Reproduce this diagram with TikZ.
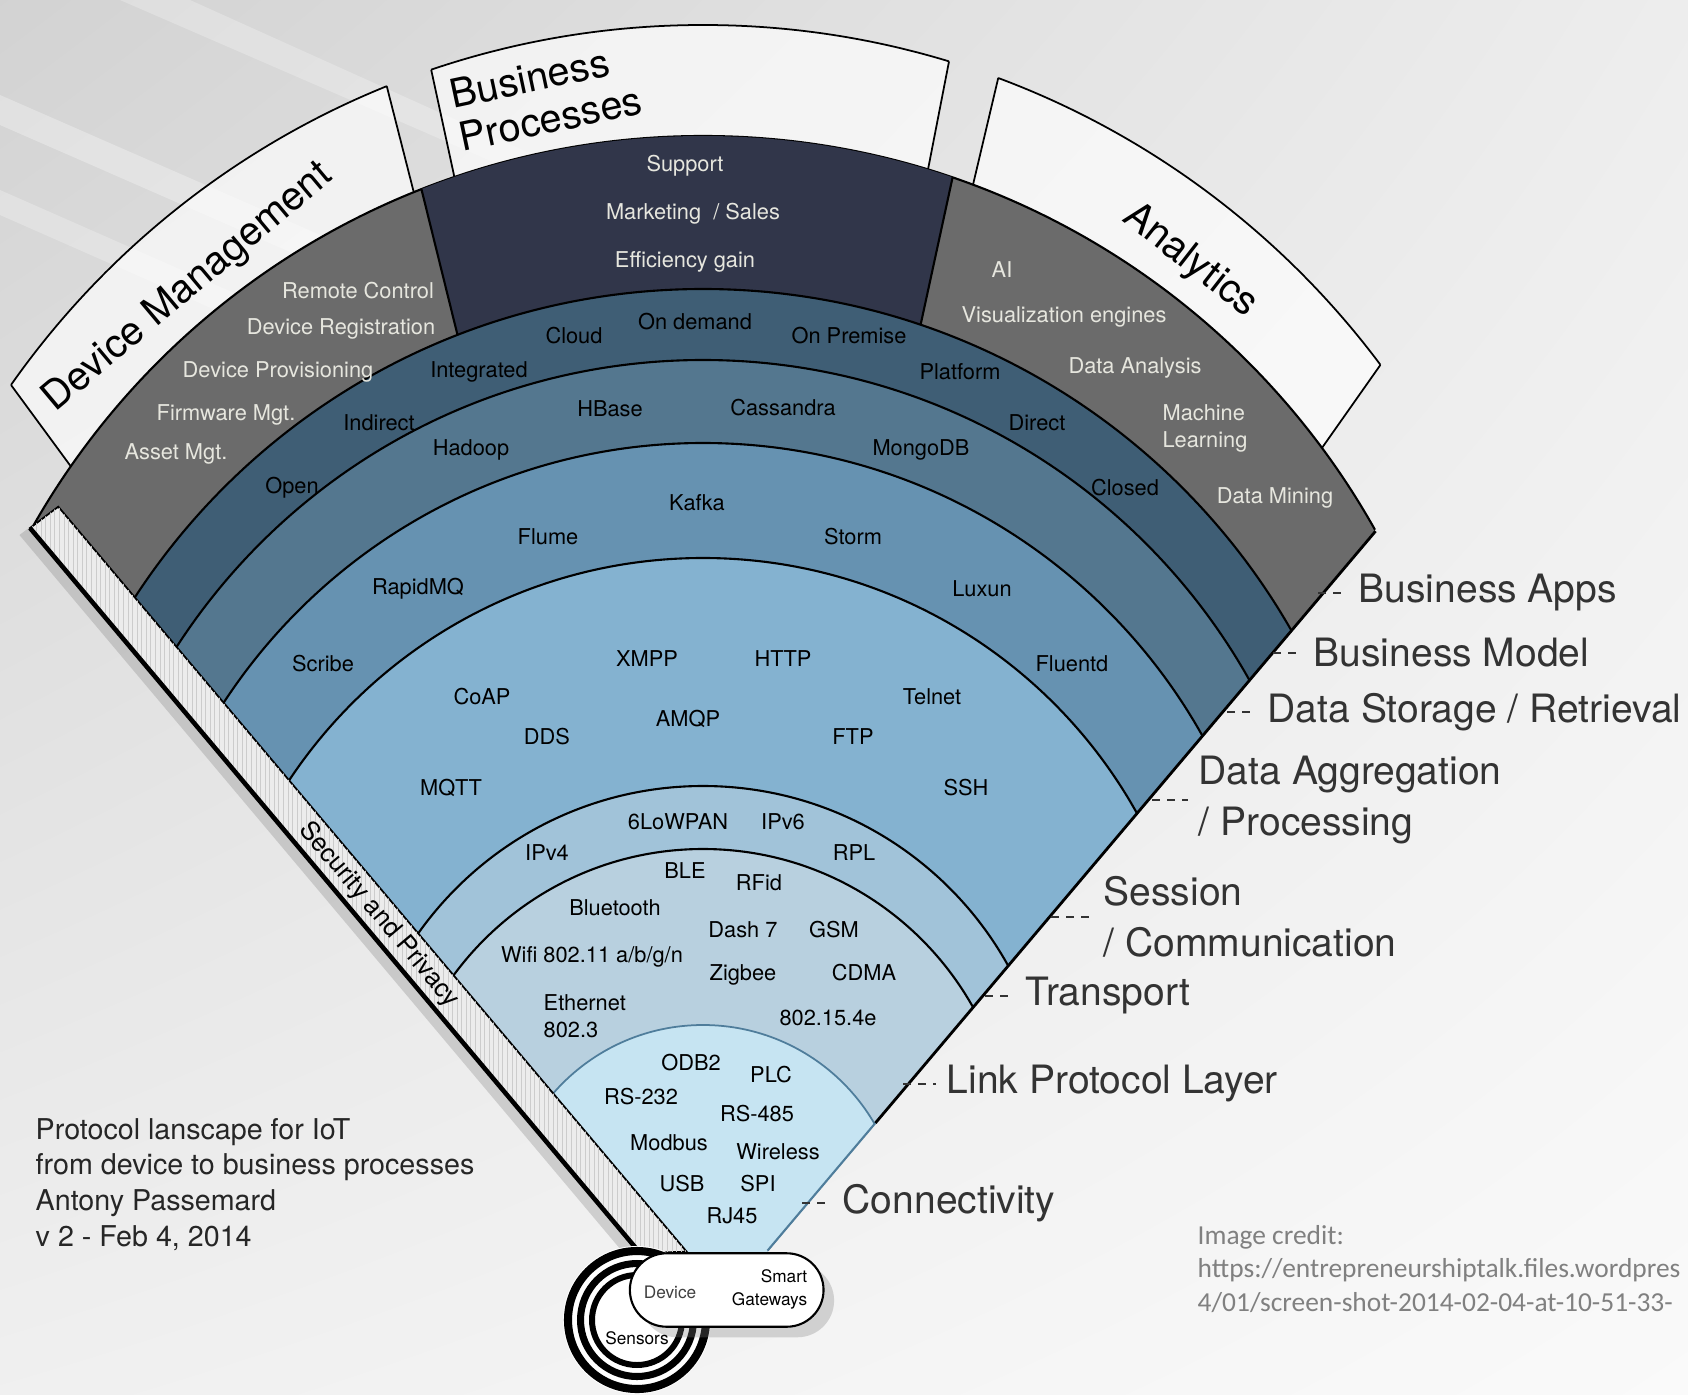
\documentclass[tikz,border=0pt]{standalone}
\usepackage{fontspec}
\setmainfont{TeX Gyre Heros}
\newfontfamily\creditfont{Carlito}
\usetikzlibrary{calc,shadows,shadings,patterns.meta,shapes.misc}

\definecolor{bandgray}{HTML}{6B6B6B}
\definecolor{navyband}{HTML}{31364A}
\definecolor{modelband}{HTML}{3F5E75}
\definecolor{storeband}{HTML}{54778F}
\definecolor{aggband}{HTML}{6692B1}
\definecolor{sessband}{HTML}{84B2D0}
\definecolor{transband}{HTML}{A1C3D9}
\definecolor{linkband}{HTML}{B8D0DF}
\definecolor{connband}{HTML}{C6E4F2}
\definecolor{connline}{HTML}{4F7D9B}
\definecolor{lighttext}{HTML}{E6E6DE}

\begin{document}
\begin{tikzpicture}[x = 0.01cm, y = 0.01cm,
    band/.style = {draw = black, line width = 0.6pt},
    tab/.style = {draw = black, line width = 0.5pt},
    lbl/.style = {inner sep = 0pt, font = \fontsize{6.2}{7.7}\selectfont},
    lightlbl/.style = {lbl, text = lighttext},
    tablbl/.style = {inner sep = 0pt, font = \fontsize{11.3}{12.5}\selectfont},
    layer/.style = {inner sep = 0pt, anchor = west, align = left, text = black!80,
        font = \fontsize{11.1}{14.5}\selectfont},
    leader/.style = {draw = black!80, line width = 0.6pt, dash pattern = on 2.3pt off 2pt,
        shorten > = 2.8pt}]

    % background
    \shade[use as bounding box, upper left = gray!35, upper right = gray!14,
        lower left = gray!12, lower right = gray!4] (0,0) rectangle (1688,-1394);
    \fill[white, opacity = .3] (0,-95) -- (0,-125) -- (560,-370) -- (560,-340) -- cycle;
    \fill[white, opacity = .25] (0,-190) -- (0,-215) -- (420,-400) -- (420,-375) -- cycle;
    \fill[white, opacity = .25] (120,0) -- (190,0) -- (700,-230) -- (650,-230) -- cycle;

    \coordinate (apex) at (703,-1327);
    \coordinate (ct) at (703,-870);
    \coordinate (c1) at (703,-906);
    \coordinate (c2) at (703,-966.4);
    \coordinate (c3) at (703,-986.2);
    \coordinate (c4) at (703,-1015.1);
    \coordinate (c5) at (703,-1054.3);
    \coordinate (c6) at (703,-1134.8);
    \coordinate (c7) at (703,-1158.4);
    \coordinate (c8) at (703,-1223.3);

    % tabs
    \begin{scope}
        \clip (ct) circle[radius = 845];
        \filldraw[tab, fill = white, fill opacity = .65]
            ($(apex)+(126.3:300)$) -- ($(apex)+(126.3:1500)$) -- ($(apex)+(104.3:1500)$) -- ($(apex)+(104.3:300)$) -- cycle
            ($(apex)+(102.2:300)$) -- ($(apex)+(102.2:1500)$) -- ($(apex)+(79:1500)$) -- ($(apex)+(79:300)$) -- cycle
            ($(apex)+(76.7:300)$) -- ($(apex)+(76.7:1500)$) -- ($(apex)+(54.85:1500)$) -- ($(apex)+(54.85:300)$) -- cycle;
    \end{scope}
    \begin{scope}
        \clip ($(apex)+(126.3:300)$) -- ($(apex)+(126.3:1500)$) -- ($(apex)+(104.3:1500)$) -- ($(apex)+(104.3:300)$) -- cycle
            ($(apex)+(102.2:300)$) -- ($(apex)+(102.2:1500)$) -- ($(apex)+(79:1500)$) -- ($(apex)+(79:300)$) -- cycle
            ($(apex)+(76.7:300)$) -- ($(apex)+(76.7:1500)$) -- ($(apex)+(54.85:1500)$) -- ($(apex)+(54.85:300)$) -- cycle;
        \draw[tab] (ct) circle[radius = 845];
    \end{scope}

    % the fan, outer band first
    \begin{scope}
        \clip (640,-1253) -- (-580,197) -- (1983,192) -- (767,-1252) -- cycle;
        \filldraw[band, fill = bandgray] (c1) circle[radius = 770];
        \begin{scope}
            \clip (c1) circle[radius = 770];
            \filldraw[band, fill = navyband] (apex) -- ($(apex)+(103.9:1500)$) -- ($(apex)+(77.75:1500)$) -- cycle;
        \end{scope}
        \filldraw[band, fill = modelband] (c2) circle[radius = 677.4];
        \filldraw[band, fill = storeband] (c3) circle[radius = 626.2];
        \filldraw[band, fill = aggband] (c4) circle[radius = 572.1];
        \filldraw[band, fill = sessband] (c5) circle[radius = 496.3];
        \filldraw[band, fill = transband] (c6) circle[radius = 348.8];
        \filldraw[band, fill = linkband] (c7) circle[radius = 309.4];
        \filldraw[band, fill = connband, draw = connline, line width = 0.5pt] (c8) circle[radius = 198.3];
    \end{scope}
    \draw[line width = 0.8pt] ($(apex)+(49.8:267)$) -- ($(apex)+(49.8:1042)$);
    \draw[connline, line width = 0.6pt] ($(apex)+(49.8:100)$) -- ($(apex)+(49.8:267)$);

    % security strip
    \filldraw[draw = black, line width = 0.5pt, fill = gray!15,
        drop shadow = {shadow xshift = -3pt, shadow yshift = -2pt, opacity = .3}]
        (30,-528) -- (58.3,-506.7) -- (686.7,-1251.7) -- (640,-1253) -- cycle;
    \fill[pattern = {Lines[angle = 90, distance = 1.3pt, line width = 0.25pt]}, pattern color = gray!40]
        (30,-528) -- (58.3,-506.7) -- (686.7,-1251.7) -- (640,-1253) -- cycle;
    \draw[line width = 1.3pt] (30,-528) -- (640,-1253);
    \node[rotate = -49.9, inner sep = 0pt, font = \fontsize{7.3}{8}\selectfont] (security) at (379,-915) {Security and Privacy};

    % sensors, device, gateways
    \coordinate (sensorc) at (637,-1320);
    \fill[white] (sensorc) circle[radius = 74];
    \draw[line width = 2.3pt] (sensorc) circle[radius = 69];
    \draw[line width = 2pt] (sensorc) circle[radius = 56.5];
    \draw[line width = 1.7pt] (sensorc) circle[radius = 45];
    \node[rounded rectangle, draw, line width = 0.6pt, fill = white, minimum width = 2.17cm,
        minimum height = 0.734cm, drop shadow = {shadow xshift = 3pt, shadow yshift = -3pt, opacity = .3}]
        (pill) at (726.7,-1290) {};
    \node[inner sep = 0pt, font = \fontsize{4.9}{6.5}\selectfont, text = black!75] (device) at (670,-1292) {Device};
    \node[inner sep = 0pt, anchor = east, align = right, font = \fontsize{4.9}{6.5}\selectfont] (gateways) at (808,-1289) {Smart\\Gateways};
    \node[inner sep = 0pt, font = \fontsize{4.9}{6.5}\selectfont] (sensors) at (637,-1338) {Sensors};

    % tab labels
    \node[tablbl, rotate = 40] (devmgmt) at (188,-288) {Device Management};
    \node[tablbl, rotate = 12, align = left] (bizproc) at (546,-97) {Business\\Processes};
    \node[tablbl, rotate = -38] (analytics) at (1190,-261) {Analytics};

    % business apps
    \node[lightlbl] (remote) at (358,-291) {Remote Control};
    \node[lightlbl] (registration) at (341,-329) {Device Registration};
    \node[lightlbl] (provisioning) at (278,-372) {Device Provisioning};
    \node[lightlbl] (firmware) at (226,-415) {Firmware Mgt.};
    \node[lightlbl] (asset) at (176,-454) {Asset Mgt.};
    \node[lightlbl] (support) at (685,-166) {Support};
    \node[lightlbl] (marketing) at (693,-214) {Marketing\ \ / Sales};
    \node[lightlbl] (efficiency) at (685,-262) {Efficiency gain};
    \node[lightlbl] (ai) at (1002,-270) {AI};
    \node[lightlbl] (visual) at (1064,-317) {Visualization engines};
    \node[lightlbl] (analysis) at (1135,-368) {Data Analysis};
    \node[lightlbl, align = left] (machine) at (1205,-428) {Machine\\Learning};
    \node[lightlbl] (mining) at (1275,-498) {Data Mining};

    % business model
    \node[lbl] (cloud) at (574,-336) {Cloud};
    \node[lbl] (ondemand) at (695,-322) {On demand};
    \node[lbl] (onpremise) at (849,-336) {On Premise};
    \node[lbl] (integrated) at (479,-372) {Integrated};
    \node[lbl] (platform) at (960,-372) {Platform};
    \node[lbl] (indirect) at (379,-423) {Indirect};
    \node[lbl] (direct) at (1037,-423) {Direct};
    \node[lbl] (open) at (292,-488) {Open};
    \node[lbl] (closed) at (1125,-488) {Closed};

    % data storage
    \node[lbl] (hbase) at (610,-409) {HBase};
    \node[lbl] (cassandra) at (783,-408) {Cassandra};
    \node[lbl] (hadoop) at (471,-450) {Hadoop};
    \node[lbl] (mongodb) at (921,-450) {MongoDB};

    % data aggregation
    \node[lbl] (kafka) at (697,-503) {Kafka};
    \node[lbl] (flume) at (548,-537) {Flume};
    \node[lbl] (storm) at (853,-537) {Storm};
    \node[lbl] (rapidmq) at (418,-589) {RapidMQ};
    \node[lbl] (luxun) at (982,-589) {Luxun};
    \node[lbl] (scribe) at (323,-664) {Scribe};
    \node[lbl] (fluentd) at (1072,-664) {Fluentd};

    % session
    \node[lbl] (xmpp) at (647,-659) {XMPP};
    \node[lbl] (http) at (783,-659) {HTTP};
    \node[lbl] (coap) at (482,-697) {CoAP};
    \node[lbl] (telnet) at (932,-697) {Telnet};
    \node[lbl] (amqp) at (688,-719) {AMQP};
    \node[lbl] (dds) at (547,-737) {DDS};
    \node[lbl] (ftp) at (853,-737) {FTP};
    \node[lbl] (mqtt) at (451,-788) {MQTT};
    \node[lbl] (ssh) at (966,-788) {SSH};

    % transport
    \node[lbl] (sixlowpan) at (678,-822) {6LoWPAN};
    \node[lbl] (ipsix) at (783,-822) {IPv6};
    \node[lbl] (ipfour) at (547,-853) {IPv4};
    \node[lbl] (rpl) at (854,-853) {RPL};

    % link
    \node[lbl] (ble) at (685,-871) {BLE};
    \node[lbl] (rfid) at (759,-883) {RFid};
    \node[lbl] (bluetooth) at (615,-908) {Bluetooth};
    \node[lbl] (dash) at (743,-930) {Dash 7};
    \node[lbl] (gsm) at (834,-930) {GSM};
    \node[lbl] (wifi) at (592,-957) {Wifi 802.11 a/b/g/n};
    \node[lbl] (zigbee) at (743,-975) {Zigbee};
    \node[lbl] (cdma) at (864,-973) {CDMA};
    \node[lbl, anchor = west, align = left] (ethernet) at (543,-1016) {Ethernet\\802.3};
    \node[lbl] (ieee) at (828,-1018) {802.15.4e};

    % connectivity
    \node[lbl] (odb) at (691,-1063) {ODB2};
    \node[lbl] (plc) at (771,-1075) {PLC};
    \node[lbl] (rstwo) at (641,-1097) {RS-232};
    \node[lbl] (rsfour) at (757,-1114) {RS-485};
    \node[lbl] (modbus) at (669,-1143) {Modbus};
    \node[lbl] (wireless) at (778,-1152) {Wireless};
    \node[lbl] (usb) at (682,-1184) {USB};
    \node[lbl] (spi) at (758,-1184) {SPI};
    \node[lbl] (rj) at (732,-1216) {RJ45};

    % layer names
    \node[layer] (lgapps) at (1358,-593) {Business Apps};
    \node[layer] (lgmodel) at (1313,-653) {Business Model};
    \node[layer] (lgstore) at (1267,-712) {Data Storage / Retrieval};
    \node[layer] (lgagg) at (1198,-800) {Data Aggregation\\/ Processing};
    \node[layer] (lgsess) at (1103,-917) {Session\\/ Communication};
    \node[layer] (lgtrans) at (1025,-996) {Transport};
    \node[layer] (lglink) at (946,-1084) {Link Protocol Layer};
    \node[layer] (lgconn) at (842,-1203) {Connectivity};
    \coordinate (dapps) at (1318,-593);
    \coordinate (dmodel) at (1273,-653);
    \coordinate (dstore) at (1227,-712);
    \coordinate (dagg) at (1152,-800);
    \coordinate (dsess) at (1051,-917);
    \coordinate (dtrans) at (985,-996);
    \coordinate (dlink) at (903,-1084);
    \coordinate (dconn) at (802,-1203);
    \draw[leader] (dapps) -- (lgapps.west);
    \draw[leader] (dmodel) -- (lgmodel.west);
    \draw[leader] (dstore) -- (lgstore.west);
    \draw[leader] (dagg) -- (lgagg.west);
    \draw[leader] (dsess) -- (lgsess.west);
    \draw[leader] (dtrans) -- (lgtrans.west);
    \draw[leader] (dlink) -- (lglink.west);
    \draw[leader] (dconn) -- (lgconn.west);

    % captions
    \node[anchor = west, align = left, inner sep = 0pt, text = black!85, font = \fontsize{8.15}{10.2}\selectfont]
        (caption) at (35,-1184.5) {Protocol lanscape for IoT\\from device to business processes\\Antony Passemard\\v 2 - Feb 4, 2014};
    \node[anchor = west, align = left, inner sep = 0pt, text = black!50, font = \creditfont\fontsize{7.8}{9.4}\selectfont]
        (credit) at (1197,-1269) {Image credit:\\https://entrepreneurshiptalk.files.wordpres\\4/01/screen-shot-2014-02-04-at-10-51-33-};
\end{tikzpicture}
\end{document}
